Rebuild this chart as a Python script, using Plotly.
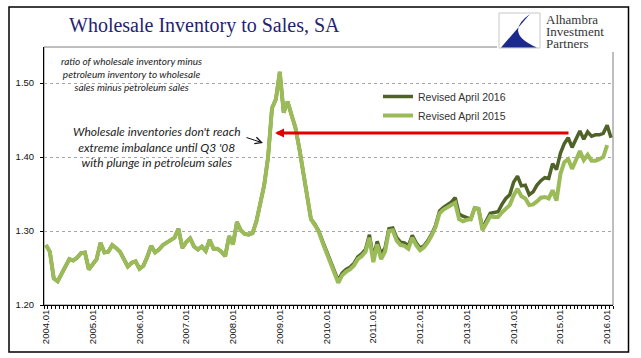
import plotly.graph_objects as go

# ---------------- data ----------------
tick_labels = ["2004.01", "2005.01", "2006.01", "2007.01", "2008.01", "2009.01", "2010.01",
               "2011.01", "2012.01", "2013.01", "2014.01", "2015.01", "2016.01"]
tick_positions = [0, 12, 24, 36, 48, 60, 72, 84, 96, 108, 120, 132, 144]

y_ticks = [1.20, 1.30, 1.40, 1.50]
y_tick_labels = ["1.20", "1.30", "1.40", "1.50"]

# monthly, starting 2004.01
revised_2016 = [
    1.281, 1.272, 1.236, 1.232, 1.242, 1.253, 1.262, 1.260, 1.264, 1.270, 1.271, 1.248,
    1.256, 1.262, 1.284, 1.271, 1.272, 1.281, 1.277, 1.272, 1.262, 1.252, 1.257, 1.259,
    1.249, 1.253, 1.265, 1.280, 1.271, 1.275, 1.281, 1.284, 1.287, 1.291, 1.303, 1.277,
    1.285, 1.290, 1.279, 1.275, 1.279, 1.273, 1.288, 1.276, 1.276, 1.272, 1.266, 1.293,
    1.282, 1.312, 1.301, 1.296, 1.295, 1.297, 1.313, 1.340, 1.362, 1.400, 1.466, 1.478,
    1.515, 1.460, 1.475, 1.457, 1.440, 1.412, 1.378, 1.345, 1.316, 1.309, 1.300, 1.286,
    1.273, 1.261, 1.248, 1.233, 1.243, 1.248, 1.251, 1.256, 1.265, 1.269, 1.275, 1.295,
    1.264, 1.286, 1.269, 1.277, 1.303, 1.304, 1.291, 1.285, 1.284, 1.280, 1.294, 1.284,
    1.277, 1.280, 1.287, 1.296, 1.308, 1.327, 1.332, 1.335, 1.339, 1.345, 1.323, 1.320,
    1.318, 1.316, 1.331, 1.330, 1.304, 1.313, 1.324, 1.325, 1.326, 1.336, 1.344, 1.349,
    1.366, 1.374, 1.361, 1.362, 1.349, 1.353, 1.362, 1.368, 1.372, 1.371, 1.391, 1.383,
    1.405, 1.418, 1.426, 1.413, 1.425, 1.435, 1.424, 1.434, 1.428, 1.430, 1.430, 1.432,
    1.443, 1.426,
]

revised_2015 = [
    1.281, 1.272, 1.236, 1.232, 1.242, 1.253, 1.262, 1.260, 1.264, 1.270, 1.271, 1.248,
    1.256, 1.262, 1.284, 1.271, 1.272, 1.281, 1.277, 1.272, 1.262, 1.252, 1.257, 1.259,
    1.249, 1.253, 1.265, 1.280, 1.271, 1.275, 1.281, 1.284, 1.287, 1.291, 1.303, 1.277,
    1.285, 1.290, 1.279, 1.275, 1.279, 1.273, 1.288, 1.276, 1.276, 1.272, 1.266, 1.293,
    1.282, 1.312, 1.301, 1.296, 1.295, 1.297, 1.313, 1.340, 1.362, 1.400, 1.466, 1.478,
    1.515, 1.460, 1.475, 1.457, 1.440, 1.412, 1.378, 1.345, 1.316, 1.308, 1.299, 1.284,
    1.271, 1.258, 1.245, 1.230, 1.240, 1.245, 1.248, 1.253, 1.262, 1.266, 1.272, 1.291,
    1.258, 1.282, 1.262, 1.272, 1.300, 1.301, 1.287, 1.281, 1.280, 1.276, 1.291, 1.281,
    1.274, 1.278, 1.285, 1.294, 1.306, 1.324, 1.329, 1.332, 1.334, 1.338, 1.316, 1.313,
    1.315, 1.316, 1.331, 1.330, 1.301, 1.311, 1.320, 1.319, 1.319, 1.325, 1.331, 1.335,
    1.348, 1.357, 1.347, 1.344, 1.335, 1.336, 1.340, 1.345, 1.346, 1.344, 1.355, 1.341,
    1.377, 1.393, 1.397, 1.384, 1.396, 1.408, 1.396, 1.403, 1.395, 1.395, 1.397, 1.400,
    1.416,
]

series_names = ["Revised April 2016", "Revised April 2015"]
series_colors = ["#4f6228", "#9bbb59"]

# ---------------- layout helpers ----------------
W, H = 641, 358
L, R, T, B = 44, 28, 47, 53
PW = W - L - R
PH = H - T - B
Y0 = 1.20
YSCALE = 740.0  # px per 1.0
Y1 = Y0 + PH / YSCALE


def px(x):
    return (x - L) / PW


def py(y):
    return (H - B - y) / PH


def dx(x):  # pixel -> category index
    return (x - L) / (PW / 146.0) - 0.5


def dy(y):  # pixel -> value
    return Y0 + (H - B - y) / YSCALE


fig = go.Figure()
fig.add_trace(go.Scatter(
    x=list(range(len(revised_2016))), y=revised_2016, mode="lines",
    name=series_names[0], legendgroup="a",
    line=dict(color=series_colors[0], width=3.5)))
fig.add_trace(go.Scatter(
    x=list(range(len(revised_2015))), y=revised_2015, mode="lines",
    name=series_names[1], legendgroup="b",
    line=dict(color=series_colors[1], width=4)))

axis_font = dict(family="Liberation Sans", size=9.5, color="#111111")

fig.update_layout(
    width=W, height=H,
    margin=dict(l=L, r=R, t=T, b=B),
    paper_bgcolor="white", plot_bgcolor="white",
    showlegend=True,
    legend=dict(x=px(378), y=py(82), xanchor="left", yanchor="top",
                font=dict(family="Liberation Sans", size=10.5, color="#333333"),
                bgcolor="rgba(0,0,0,0)", traceorder="grouped", tracegroupgap=0,
                itemwidth=30),
    xaxis=dict(range=[-0.5, 145.5], tickmode="array", tickvals=tick_positions,
               ticktext=tick_labels, tickangle=-90, ticks="", showgrid=False,
               zeroline=False, showline=True, linecolor="black", linewidth=1,
               tickfont=axis_font,
               minor=dict(tickmode="linear", tick0=-0.5, dtick=1, ticks="outside",
                          ticklen=3, tickcolor="black", showgrid=False)),
    yaxis=dict(range=[Y0, Y1], tickmode="array", tickvals=y_ticks, ticktext=y_tick_labels,
               showgrid=True, gridcolor="#a6a6a6", griddash="dot", gridwidth=1,
               zeroline=False, showline=True, linecolor="black", linewidth=1,
               ticks="outside", ticklen=3, tickcolor="black", tickfont=axis_font,
               ticklabelstandoff=4),
)

shapes = [
    # outer chart border
    dict(type="rect", xref="paper", yref="paper", x0=px(9), x1=px(628.5), y0=py(352), y1=py(7),
         line=dict(color="black", width=1.5), layer="above"),
    # plot frame
    dict(type="rect", xref="paper", yref="paper", x0=0, x1=1, y0=0, y1=1,
         line=dict(color="#7f7f7f", width=1), layer="below"),
    # white patch behind logo
    dict(type="rect", xref="paper", yref="paper", x0=px(497), x1=px(616), y0=py(52), y1=py(40),
         line=dict(width=0), fillcolor="white", layer="above"),
    # logo box
    dict(type="rect", xref="paper", yref="paper", x0=px(499), x1=px(540), y0=py(48), y1=py(13),
         line=dict(color="#c8c8c8", width=1), fillcolor="white", layer="above"),
]
path = "M {a},{b} L {c},{d} L {e},{f} Q {g},{h} {a},{b} Z".format(
    a=px(530), b=py(14), c=px(501), d=py(47.5), e=px(537), f=py(47.5), g=px(503), h=py(33))
shapes.append(dict(type="path", xref="paper", yref="paper", path=path,
                   fillcolor="#1b2a8c", line=dict(width=0), layer="above"))
fig.update_layout(shapes=shapes)

ann = []
ann.append(dict(text="Wholesale Inventory to Sales, SA", xref="paper", yref="paper",
                x=px(67), y=py(25), xanchor="left", yanchor="middle", showarrow=False,
                font=dict(family="Liberation Serif", size=20, color="#1f2470")))
ann.append(dict(text="<i>ratio of wholesale inventory minus<br>petroleum inventory to wholesale<br>sales minus petroleum sales</i>",
                xref="paper", yref="paper", x=px(131), y=py(74), xanchor="center", yanchor="middle",
                showarrow=False, align="center",
                font=dict(family="Lato", size=10, color="#222222")))
ann.append(dict(text="<i>Wholesale inventories don't reach<br>extreme imbalance until Q3 '08<br>with plunge in petroleum sales</i>",
                xref="paper", yref="paper", x=px(157), y=py(147), xanchor="center", yanchor="middle",
                showarrow=False, align="center",
                font=dict(family="Lato", size=12, color="#222222")))
for txt, yy in [("Alhambra", 19.5), ("Investment", 31.5), ("Partners", 43.5)]:
    ann.append(dict(text=txt, xref="paper", yref="paper", x=px(544), y=py(yy),
                    xanchor="left", yanchor="middle", showarrow=False,
                    font=dict(family="Liberation Serif", size=13, color="#333333")))
# red arrow
ann.append(dict(text="", x=dx(275), y=dy(133), ax=dx(570), ay=dy(133),
                xref="x", yref="y", axref="x", ayref="y", showarrow=True,
                arrowhead=2, arrowsize=0.6, arrowwidth=3, arrowcolor="#e00000"))
# small black arrow
ann.append(dict(text="", x=dx(263), y=dy(143), ax=dx(245), ay=dy(137),
                xref="x", yref="y", axref="x", ayref="y", showarrow=True,
                arrowhead=5, arrowsize=1.3, arrowwidth=1, arrowcolor="#111111"))
fig.update_layout(annotations=ann)

fig.write_html("out.html", config={"displayModeBar": False},
               post_script="document.body.style.margin='0';document.body.style.overflow='hidden';")
